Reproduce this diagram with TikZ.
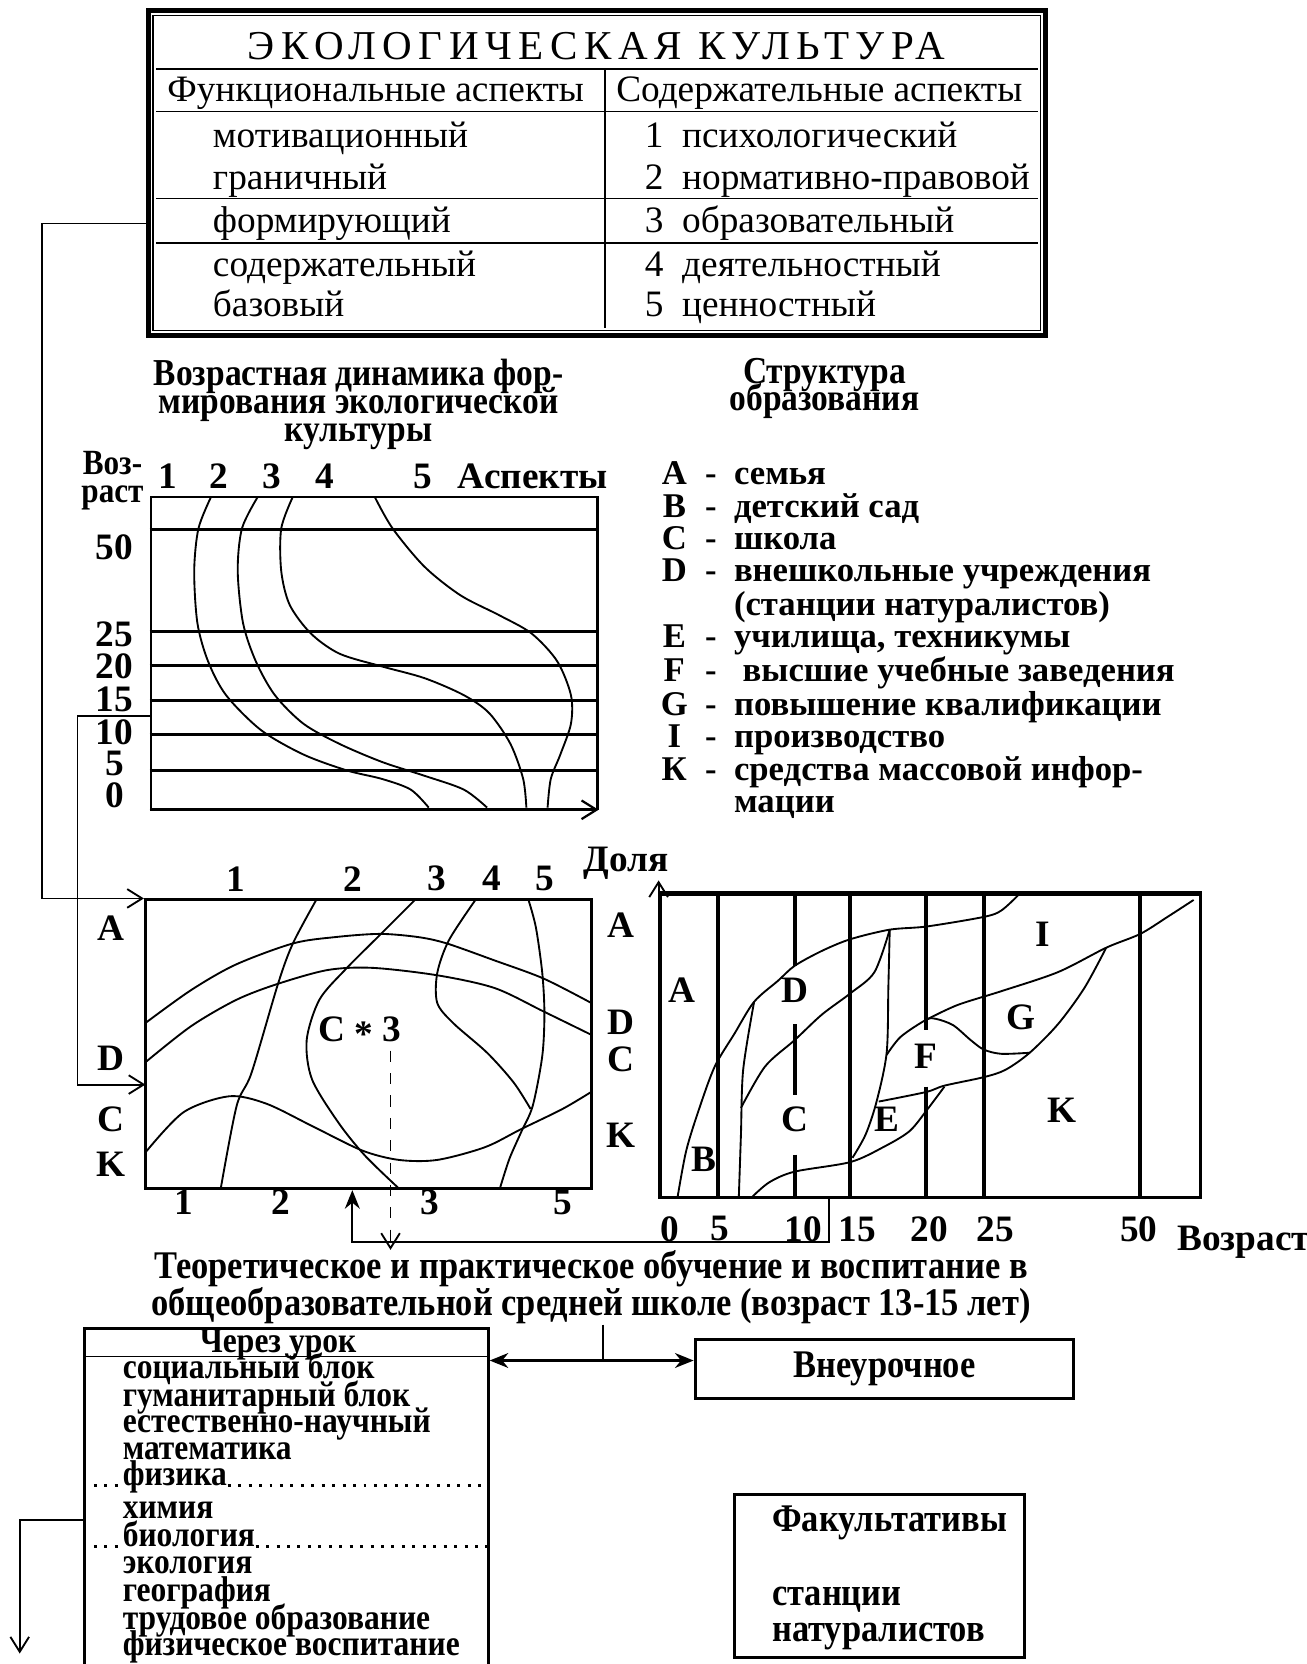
\documentclass[tikz,border=0pt]{standalone}
\usepackage{fontspec}
\setmainfont{Liberation Serif}
\newfontfamily\spacedfont[LetterSpace=16]{Liberation Serif}
\newfontfamily\narrowfont[FakeStretch=0.88]{Liberation Serif}
\usetikzlibrary{arrows.meta,positioning}

\begin{document}
\begin{tikzpicture}[
  x=0.1mm, y=-0.1mm,
  boxed/.style={draw, line width=0.8pt, inner sep=0pt},
  tabtxt/.style={inner sep=0pt, anchor=base west, font=\fontsize{10}{12}\selectfont},
  lbl/.style={inner sep=0pt, font=\bfseries\fontsize{10}{12}\selectfont},
  head/.style={inner sep=0pt, align=center, font={\narrowfont\bfseries\fontsize{10.2}{7.4}\selectfont\lineskiplimit=-20pt}},
  subj/.style={inner sep=0pt, anchor=base west, font=\narrowfont\bfseries\fontsize{9.6}{10}\selectfont},
  hline/.style={line width=0.6pt},
  thickline/.style={line width=1.1pt},
  trace/.style={line width=0.5pt},
  arrow/.style={-{Straight Barb[length=4pt,width=5pt]}, line width=0.5pt},
  solidarrow/.style={-{Stealth[length=5pt,width=4pt]}, line width=0.6pt}
]
\useasboundingbox (0,0) rectangle (1231,1568);

% table of aspects
\node[boxed, line width=1.4pt, minimum width=84.5mm, minimum height=30.6mm] (culture) at (562.5,163) {};
\draw[line width=0.5pt] ([shift={(7,7)}]culture.north west) rectangle ([shift={(-7,-7)}]culture.south east);
\draw (147,65) -- (978,65);
\draw (147,105) -- (978,105);
\draw (147,187) -- (978,187);
\draw (147,229) -- (978,229);
\draw (570,65) -- (570,309);
\node[inner sep=0pt, anchor=base, font=\spacedfont\fontsize{11}{13}\selectfont] (title) at (562,56) {ЭКОЛОГИЧЕСКАЯ КУЛЬТУРА};
\node[tabtxt, anchor=base] (funchead) at (354,96) {Функциональные аспекты};
\node[tabtxt, anchor=base] (conthead) at (772,96) {Содержательные аспекты};
\node[tabtxt] (motiv) at (200,139) {мотивационный};
\node[tabtxt] (bound) at (200,179) {граничный};
\node[tabtxt] (form) at (200,219) {формирующий};
\node[tabtxt] (content) at (200,261) {содержательный};
\node[tabtxt] (base) at (200,298) {базовый};
\node[tabtxt] (psych) at (607,139) {1\ \ психологический};
\node[tabtxt] (norm) at (607,179) {2\ \ нормативно-правовой};
\node[tabtxt] (educ) at (607,219) {3\ \ образовательный};
\node[tabtxt] (activ) at (607,261) {4\ \ деятельностный};
\node[tabtxt] (value) at (607,298) {5\ \ ценностный};

% headings
\node[head] (dynhead) at (338,381) {Возрастная динамика фор-\\мирования экологической\\культуры};
\node[head] (structhead) at (777,366) {Структура\\образования};

% age dynamics chart
\node[boxed, line width=0.6pt, minimum width=42.1mm, minimum height=29.4mm] (age) at (352.5,615) {};
\foreach \y in {499,595,627,660,692,726}
  \draw[hline] (age.west |- 0,\y) -- (age.east |- 0,\y);
\draw[arrow, line width=0.6pt] (age.south west) -- (age.south east);
\node[lbl, align=center, font={\narrowfont\bfseries\fontsize{9.5}{7.4}\selectfont\lineskiplimit=-20pt}] (agelabel) at (106,453) {Воз-\\раст};
\foreach \v/\y in {50/516,25/598,20/628,15/659,10/690,5/719,0/749}
  \node[lbl] (age\v) at (108,\y) {\v};
\foreach \n/\x in {1/158,2/206,3/256,4/306,5/398}
  \node[lbl] (asp\n) at (\x,449) {\n};
\node[lbl] (aspects) at (502,449) {Аспекты};
\draw[trace] plot[smooth] coordinates {(199,468) (187,498) (183,538) (186,587) (196,623) (213,655) (246,688) (286,711) (327,726) (360,734) (387,744) (404,761)};
\draw[trace] plot[smooth] coordinates {(243,468) (228,498) (224,538) (229,587) (241,623) (259,655) (286,682) (320,701) (360,718) (400,731) (437,744) (459,761)};
\draw[trace] plot[smooth] coordinates {(276,468) (265,498) (265,538) (273,570) (293,597) (320,616) (360,628) (400,639) (437,655) (461,672) (481,701) (493,734) (496,761)};
\draw[trace] plot[smooth] coordinates {(353,468) (370,498) (400,534) (434,561) (471,580) (501,597) (525,623) (538,655) (538,682) (528,711) (519,734) (516,761)};

% legend
\node[inner sep=0pt, anchor=north west, font=\bfseries\fontsize{9.3}{8.4}\selectfont] (legend) at (622,434) {%
  \begin{tabular}{@{}c@{\ \ }c@{\ \ }l@{}}
  A & - & семья\\
  B & - & детский сад\\
  C & - & школа\\
  D & - & внешкольные учреждения\\
    &   & (станции натуралистов)\\
  E & - & училища, техникумы\\
  F & - & \ высшие учебные заведения\\
  G & - & повышение квалификации\\
  I & - & производство\\
  К & - & средства массовой инфор-\\
    &   & мации
  \end{tabular}};

% share of aspects chart
\node[boxed, minimum width=42mm, minimum height=27.2mm] (share) at (347,984) {};
\draw[trace] plot[smooth] coordinates {(137,964) (180,933) (222,909) (276,889) (316,883) (358,880) (394,883) (421,889) (466,905) (512,922) (557,945)};
\draw[trace] plot[smooth] coordinates {(137,1001) (180,967) (223,942) (262,927) (309,914) (351,912) (412,919) (466,931) (512,953) (557,975)};
\draw[trace] plot[smooth] coordinates {(137,1086) (173,1048) (216,1033) (251,1040) (294,1061) (341,1084) (376,1093) (412,1093) (457,1081) (491,1064) (530,1045) (557,1029)};
\draw[trace] plot[smooth] coordinates {(298,848) (276,889) (262,927) (237,1011) (223,1042) (208,1120)};
\draw[trace] plot[smooth] coordinates {(391,848) (359,880) (326,913) (301,942) (289,980) (294,1017) (319,1058) (344,1089) (376,1120)};
\draw[trace] plot[smooth] coordinates {(448,848) (423,886) (412,917) (412,945) (427,964) (459,992) (484,1020) (500,1045)};
\draw[trace] plot[smooth] coordinates {(498,848) (505,874) (511,917) (513,955) (511,995) (502,1042) (491,1067) (480,1092) (471,1120)};
\foreach \n/\x in {1/222,2/332,3/412,4/463,5/513}
  \node[lbl] (top\n) at (\x,828) {\n};
\foreach \n/\x in {1/173,2/265,3/405,5/530}
  \node[lbl] (bot\n) at (\x,1133) {\n};
\foreach \k/\y in {A/875,D/997,C/1055,K/1097}
  \node[lbl] (left\k) at (105,\y) {\k};
\foreach \k/\y in {A/872,D/963,C/998,K/1070}
  \node[lbl] (right\k) at (585,\y) {\k};
\node[lbl] (cstar) at (339,972) {C \raisebox{-0.3ex}{*} 3};
\coordinate (dashtop) at (368,990);

% education structure chart
\node[boxed, minimum width=50.9mm, minimum height=28.5mm] (edu) at (876.5,985.5) {};
\draw[line width=1.4pt] (edu.north west) -- (edu.north east);
\draw[arrow] (edu.south west) -- ([yshift=1.2mm]edu.north west);
\foreach \x in {676.4,801.3,927,1074.5}
  \draw[thickline] (edu.north -| \x,0) -- (edu.south -| \x,0);
\draw[thickline] (748.9,843) -- (748.9,910) (748.9,965) -- (748.9,1032) (748.9,1088) -- (748.9,1128);
\draw[thickline] (872.6,843) -- (872.6,971) (872.6,1024) -- (872.6,1128);
\draw[trace] plot[smooth] coordinates {(638.5,1128) (646.7,1084) (659.1,1044) (673.5,1005) (692.1,974) (710.6,944) (733.3,924) (748.9,910) (774.5,896) (801.3,885) (838.4,876) (873.4,873) (927,864) (943.5,858) (960,843)};
\draw[trace] plot[smooth] coordinates {(696.2,1128) (698.2,1069) (700.3,1008) (710.6,944)};
\draw[trace] plot[smooth] coordinates {(698.2,1044) (720.9,1005) (748.9,980) (774.5,956) (801.3,936) (824,916) (838.4,876)};
\draw[trace] plot[smooth] coordinates {(838.4,876) (837.1,931) (835.5,992) (826,1038) (815.7,1069) (803.3,1091)};
\draw[trace] plot[smooth] coordinates {(708.6,1128) (725,1114) (748.9,1104) (801.3,1095) (832.2,1081) (856.9,1066) (873.4,1046) (889.9,1024)};
\draw[trace] plot[smooth] coordinates {(828.1,1038) (872.6,1029) (889.9,1023) (927,1015) (947.6,1008) (970.3,992) (997,965) (1021.8,931) (1042.4,893)};
\draw[trace] plot[smooth] coordinates {(835.5,994) (848.7,977) (872.6,961) (881.7,960) (898.1,966) (914.6,980) (927,989) (943.5,993) (970.3,992)};
\draw[trace] plot[smooth] coordinates {(872.6,961) (902.3,947) (943.5,934) (997,916) (1042.4,893) (1074.5,880) (1100.1,864) (1124.8,848)};
\foreach \k/\x/\y in {A/642.6/933,D/748.9/933,C/748.9/1055,B/663/1092,E/836/1055,F/872.6/995,G/962/959,I/982.6/880,K/1001/1046}
  \node[lbl] (zone\k) at (\x,\y) {\k};
\foreach \v/\x in {0/631,5/678,10/757,15/808,20/876,25/938,50/1073}
  \node[lbl] (yr\v) at (\x,1158) {\v};
\node[lbl] (share-axis) at (590,813) {Доля};
\node[lbl] (age-axis) at (1172,1171) {Возраст};

% school part
\node[lbl, align=center, font={\narrowfont\bfseries\fontsize{10.5}{9.9}\selectfont\lineskiplimit=-20pt}] (theory) at (557,1213)
  {Теоретическое и практическое обучение и воспитание в\\общеобразовательной средней школе (возраст 13-15 лет)};
\node[boxed, minimum width=38mm, minimum height=32.8mm] (lesson) at (270,1416) {};
\draw (lesson.west |- 0,1278) -- (lesson.east |- 0,1278);
\node[subj, anchor=base] (lessonhead) at (262,1274) {Через урок};
\foreach \subj/\y [count=\i] in {социальный блок/1299,гуманитарный блок/1325,естественно-научный/1350,математика/1375,физика/1400,химия/1431,биология/1457,экология/1483,география/1509,трудовое образование/1535,физическое воспитание/1560}
  \node[subj] (s\i) at (115,\y) {\subj};
\draw[dotted, line width=0.8pt] (lesson.west |- s5.base) -- (s5.base west) (s5.base east) -- (lesson.east |- s5.base);
\draw[dotted, line width=0.8pt] (lesson.west |- s7.base) -- (s7.base west) (s7.base east) -- (lesson.east |- s7.base);
\node[boxed, minimum width=35.7mm, minimum height=5.6mm, font=\narrowfont\bfseries\fontsize{10.5}{12}\selectfont] (extra) at (833.5,1290) {Внеурочное};
\node[boxed, minimum width=27.3mm, minimum height=15.4mm] (elect) at (828.5,1485) {};
\node[subj, font=\narrowfont\bfseries\fontsize{10.5}{12}\selectfont] (electname) at (727,1443) {Факультативы};
\node[subj, font=\narrowfont\bfseries\fontsize{10.5}{12}\selectfont] (station) at (727,1513) {станции};
\node[subj, font=\narrowfont\bfseries\fontsize{10.5}{12}\selectfont] (natur) at (727,1547) {натуралистов};

% connectors
\coordinate (agetap) at (142,675);
\coordinate (sharein) at (137,1022);
\coordinate (split) at (568,1282);
\draw[arrow] (culture.west |- form) -- ++(-98,0) |- (share.north west);
\draw[arrow] (agetap) -- ++(-69,0) |- (sharein);
\draw[solidarrow] (edu.south -| 781,0) -- (781,1170) -| (share.south -| 332,0);
\draw[dashed, arrow] (dashtop) -- (theory.north -| dashtop);
\draw (theory.south -| split) -- (split);
\draw[{Stealth[length=5pt,width=4pt]}-{Stealth[length=5pt,width=4pt]}, line width=0.6pt] (lesson.east |- split) -- (extra.west |- split);
\draw[arrow] (lesson.west |- s7.north) -- ++(-60,0) -- ++(0,126);
\end{tikzpicture}
\end{document}
